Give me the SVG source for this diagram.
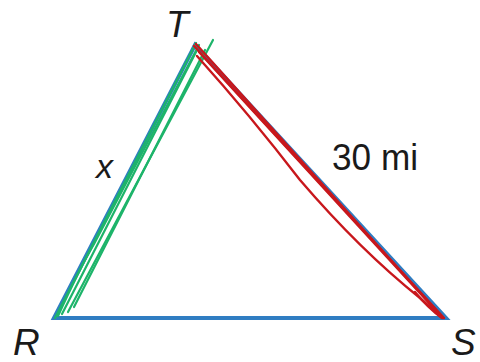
<svg xmlns="http://www.w3.org/2000/svg" width="480" height="362" viewBox="0 0 480 362">
<style>
.lbl{font-family:"Liberation Sans",Arial,sans-serif;fill:#1a1a1a}
.it{font-style:italic}
.edge{fill:none;stroke:#2f7dc2;stroke-width:4;stroke-linejoin:miter}
.g{fill:none;stroke:#1db46a;stroke-width:2.2;stroke-linecap:round}
.r{fill:none;stroke:#c8171c;stroke-width:2.4;stroke-linecap:round}
</style>
<rect width="480" height="362" fill="#ffffff"/>
<g id="connectors">
<path class="edge" d="M54,318 L195,45 L446,318 Z"/>
<g id="green-marks">
<path class="g" d="M55,318 L196,43"/>
<path class="g" d="M58,316 Q80,268 94,244 L199,45"/>
<path class="g" d="M68,312 L213,40"/>
<path class="g" d="M74,307 L205,50"/>
<path class="g" d="M62,314 L197,50"/>
</g>
<g id="red-marks">
<path class="r" d="M194,46 L444,318"/>
<path class="r" d="M199,52 L440,315"/>
<path class="r" d="M197,56 Q250,115 300,180 Q360,250 420,298 L441,317" stroke-width="1.8"/>
<path class="r" d="M196,44 L443,318" stroke-width="3"/>
<path class="r" d="M415,292 Q428,308 442,318" stroke-width="4"/>
</g>
</g>
<g id="T"><text class="lbl it" x="166" y="37" font-size="37">T</text></g>
<g id="R"><text class="lbl it" x="13" y="355" font-size="37">R</text></g>
<g id="S"><text class="lbl it" x="451" y="355" font-size="37">S</text></g>
<g id="x"><text class="lbl it" x="96" y="178" font-size="34">x</text></g>
<g id="len"><text class="lbl" x="332" y="170" font-size="36" textLength="86" lengthAdjust="spacingAndGlyphs">30 mi</text></g>
</svg>
